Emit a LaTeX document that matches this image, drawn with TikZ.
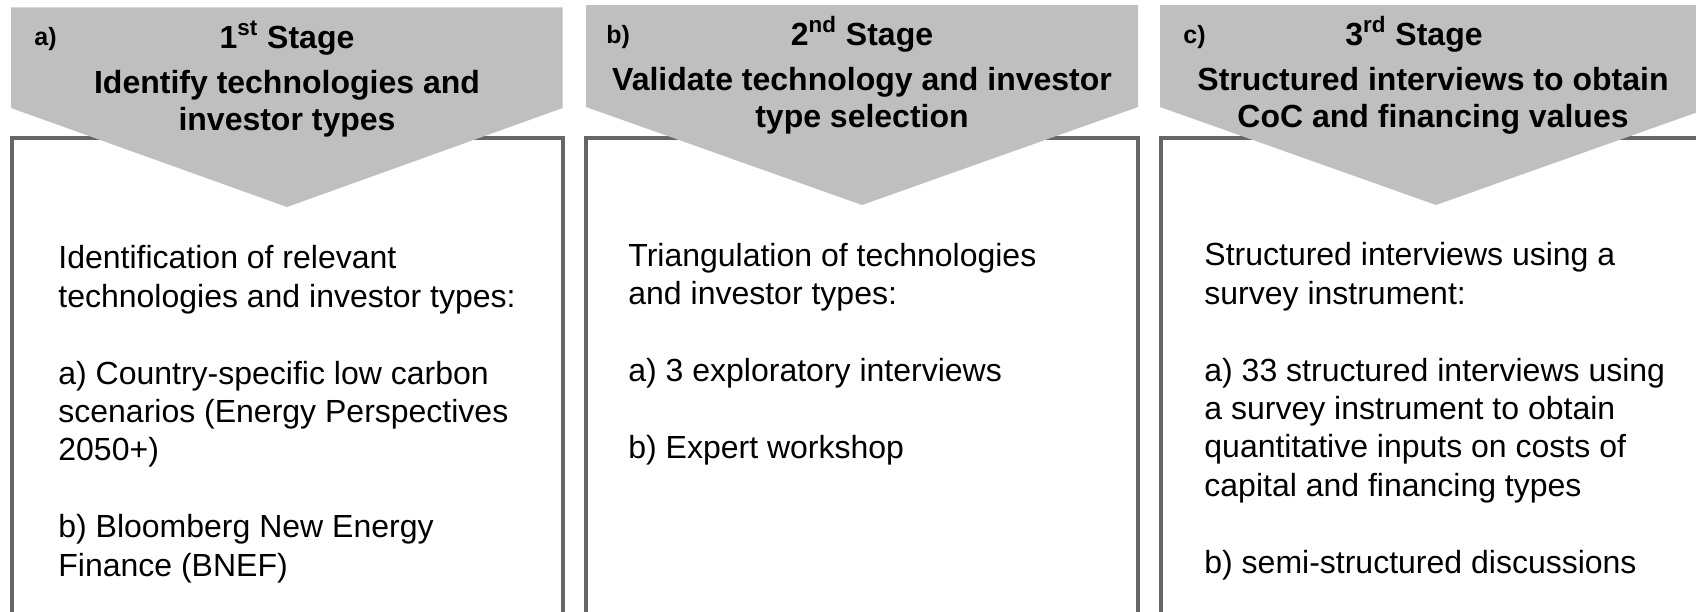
\documentclass[tikz,border=0pt]{standalone}
\usepackage{fontspec}
\setmainfont{Liberation Sans}

\definecolor{sgrey}{HTML}{BFBFBF}
\definecolor{sframe}{HTML}{666666}

% multi-line nodes sit on the baseline of their last line
\tikzset{
  frame/.style={draw=sframe,line width=2pt},
  stagelbl/.style={anchor=base west,inner sep=0pt,font=\fontsize{12.5}{15}\selectfont\bfseries},
  stagehead/.style={anchor=base,inner sep=0pt,font=\fontsize{16}{18.5}\selectfont\bfseries},
  stagetitle/.style={anchor=base,inner sep=0pt,align=center,font=\fontsize{16}{18.5}\selectfont\bfseries},
  stagebody/.style={anchor=base west,inner sep=0pt,align=left,font=\fontsize{16}{19.2}\selectfont}
}

\begin{document}
\begin{tikzpicture}[x=0.5pt,y=-0.5pt]
  \useasboundingbox (0,0) rectangle (1696,611);
  \clip (0,0) rectangle (1696,611);

  % open frames, bottom runs off the page
  \draw[frame] (11.7,650) -- (11.7,137.5) -- (562.5,137.5) -- (562.5,650);
  \draw[frame] (585.5,650) -- (585.5,137.5) -- (1137.5,137.5) -- (1137.5,650);
  \draw[frame] (1161,650) -- (1161,137.5) -- (1713,137.5) -- (1713,650);

  % stage arrows on top of the frames
  \fill[sgrey] (11,7.3) -- (562.7,7.3) -- (562.7,108) -- (287,207) -- (11,108) -- cycle;
  \fill[sgrey] (586,5) -- (1138,5) -- (1138,107) -- (862,205) -- (586,107) -- cycle;
  \fill[sgrey] (1160,5) -- (1712,5) -- (1712,107) -- (1436,205) -- (1160,107) -- cycle;

  % 1st stage
  \node[stagelbl] (lblA) at (34,45) {a)};
  \node[stagehead] (headA) at (287,48) {1\textsuperscript{st} Stage};
  \node[stagetitle] (titleA) at (287,130) {Identify technologies and\\investor types};
  \node[stagebody] (bodyA) at (58,576) {Identification of relevant\\
    technologies and investor types:\\[19.2pt]
    a) Country-specific low carbon\\
    scenarios (Energy Perspectives\\
    2050+)\\[19.2pt]
    b) Bloomberg New Energy\\
    Finance (BNEF)};

  % 2nd stage
  \node[stagelbl] (lblB) at (606,43) {b)};
  \node[stagehead] (headB) at (862,45) {2\textsuperscript{nd} Stage};
  \node[stagetitle] (titleB) at (862,127) {Validate technology and investor\\type selection};
  \node[stagebody] (bodyB) at (628,458) {Triangulation of technologies\\
    and investor types:\\[19.2pt]
    a) 3 exploratory interviews\\[19.2pt]
    b) Expert workshop};

  % 3rd stage
  \node[stagelbl] (lblC) at (1183,43) {c)};
  \node[stagehead] (headC) at (1414,45) {3\textsuperscript{rd} Stage};
  \node[stagetitle] (titleC) at (1433,127) {Structured interviews to obtain\\CoC and financing values};
  \node[stagebody] (bodyC) at (1204,573) {Structured interviews using a\\
    survey instrument:\\[19.2pt]
    a) 33 structured interviews using\\
    a survey instrument to obtain\\
    quantitative inputs on costs of\\
    capital and financing types\\[19.2pt]
    b) semi-structured discussions};
\end{tikzpicture}
\end{document}
